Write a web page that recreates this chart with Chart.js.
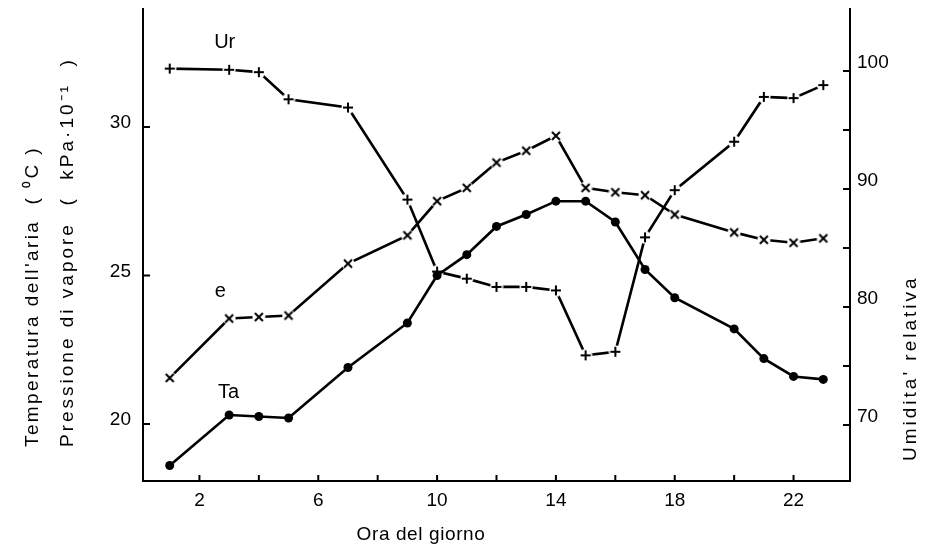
<!DOCTYPE html>
<html>
<head>
<meta charset="utf-8">
<script src="https://cdn.jsdelivr.net/npm/chart.js@4/dist/chart.umd.min.js"></script>
<style>
  html, body { margin: 0; padding: 0; background: #fff; }
</style>
</head>
<body>
<canvas id="grafico" width="938" height="555"></canvas>
<script>
// ore di misura e serie
var ore = [1, 3, 4, 5, 7, 9, 10, 11, 12, 13, 14, 15, 16, 17, 18, 20, 21, 22, 23];
var ta = [18.6, 20.3, 20.25, 20.2, 21.9, 23.4, 25.0, 25.7, 26.65, 27.05, 27.5, 27.5, 26.8, 25.2, 24.25, 23.2, 22.2, 21.6, 21.5];
var e = [21.55, 23.55, 23.6, 23.65, 25.4, 26.35, 27.5, 27.95, 28.8, 29.2, 29.7, 27.95, 27.8, 27.7, 27.05, 26.45, 26.2, 26.1, 26.25];
var ur = [100.2, 100.1, 99.9, 97.6, 96.9, 89.1, 83.0, 82.4, 81.7, 81.7, 81.4, 75.9, 76.2, 85.9, 89.9, 94.0, 97.8, 97.7, 98.8];

// etichette degli assi
var oreLabel = [2, 6, 10, 14, 18, 22];
var oreTacche = [2, 4, 6, 8, 10, 12, 14, 16, 18, 20, 22];
var tempLabel = [20, 25, 30];
var urLabel = [70, 80, 90, 100];
var urTacche = [70, 75, 80, 85, 90, 95, 100];

var FONT = '"Liberation Sans", Arial, sans-serif';

function punti(ys) {
  return ore.map(function (h, i) { return { x: h, y: ys[i] }; });
}

// simbolo con fondo bianco, cosi' la linea si interrompe vicino al punto
function simbolo(tipo) {
  var c = document.createElement('canvas');
  c.width = 14; c.height = 14;
  var g = c.getContext('2d');
  g.fillStyle = '#fff';
  g.beginPath(); g.arc(7, 7, 6.5, 0, 2 * Math.PI); g.fill();
  g.strokeStyle = '#000';
  g.lineWidth = 2;
  g.beginPath();
  if (tipo === 'x') {
    g.moveTo(3, 3); g.lineTo(11, 11);
    g.moveTo(11, 3); g.lineTo(3, 11);
  } else {
    g.moveTo(7, 2); g.lineTo(7, 12);
    g.moveTo(2, 7); g.lineTo(12, 7);
  }
  g.stroke();
  return c;
}

function soloTacche(valori) {
  return function (scale) {
    scale.ticks = valori.map(function (v) { return { value: v }; });
  };
}

// tacche rivolte verso l'interno
var tacche = {
  id: 'tacche',
  afterDraw: function (chart) {
    var ctx = chart.ctx, a = chart.chartArea, s = chart.scales;
    ctx.save();
    ctx.strokeStyle = '#000';
    ctx.lineWidth = 2;
    ctx.beginPath();
    tempLabel.forEach(function (v) {
      var y = s.yT.getPixelForValue(v);
      ctx.moveTo(a.left, y); ctx.lineTo(a.left + 7, y);
    });
    urTacche.forEach(function (v) {
      var y = s.yU.getPixelForValue(v);
      ctx.moveTo(a.right, y); ctx.lineTo(a.right - 7, y);
    });
    oreTacche.forEach(function (v) {
      var x = s.x.getPixelForValue(v);
      ctx.moveTo(x, a.bottom); ctx.lineTo(x, a.bottom - 6);
    });
    ctx.stroke();
    ctx.restore();
  }
};

function verticale(ctx, testo, x, y) {
  ctx.save();
  ctx.translate(x, y);
  ctx.rotate(-Math.PI / 2);
  ctx.fillText(testo, 0, 0);
  ctx.restore();
}

// nomi delle curve e titoli degli assi
var testi = {
  id: 'testi',
  afterDraw: function (chart) {
    var ctx = chart.ctx, s = chart.scales;
    ctx.save();
    ctx.fillStyle = '#000';
    ctx.textBaseline = 'middle';
    ctx.textAlign = 'center';
    ctx.font = '20px ' + FONT;
    ctx.fillText('Ur', s.x.getPixelForValue(2.85), s.yU.getPixelForValue(102.4));
    ctx.fillText('e', s.x.getPixelForValue(2.7), s.yT.getPixelForValue(24.45));
    ctx.fillText('Ta', s.x.getPixelForValue(2.98), s.yT.getPixelForValue(21.05));

    ctx.font = '19px ' + FONT;
    ctx.letterSpacing = '0.6px';
    ctx.fillText('Ora del giorno', 421, 535);

    ctx.textAlign = 'left';
    ctx.letterSpacing = '2.4px';
    verticale(ctx, "Temperatura dell'aria  ( \u2070C )", 33, 447);
    ctx.letterSpacing = '3px';
    verticale(ctx, 'Pressione di vapore  (  kPa\u00b710\u207b\u00b9  )', 68, 447);
    verticale(ctx, "Umidita' relativa", 911, 461);
    ctx.restore();
  }
};

var ctx = document.getElementById('grafico').getContext('2d');
var grafico = new Chart(ctx, {
  type: 'line',
  data: {
    datasets: [{
      label: 'Ta',
      data: punti(ta),
      yAxisID: 'yT',
      borderColor: '#000',
      backgroundColor: '#000',
      borderWidth: 2.6,
      pointStyle: 'circle',
      pointRadius: 4.5,
      pointBorderWidth: 0
    }, {
      label: 'e',
      data: punti(e),
      yAxisID: 'yT',
      borderColor: '#000',
      borderWidth: 2.6,
      pointStyle: simbolo('x')
    }, {
      label: 'Ur',
      data: punti(ur),
      yAxisID: 'yU',
      borderColor: '#000',
      borderWidth: 2.6,
      pointStyle: simbolo('+')
    }]
  },
  options: {
    responsive: false,
    animation: false,
    layout: { padding: { left: 103, right: 38, top: 9, bottom: 44 } },
    plugins: { legend: { display: false }, tooltip: { enabled: false } },
    scales: {
      x: {
        type: 'linear',
        min: 0.1,
        max: 23.9,
        afterBuildTicks: soloTacche(oreLabel),
        afterFit: function (sc) { sc.height = 30; sc.paddingLeft = 0; sc.paddingRight = 0; },
        grid: { drawOnChartArea: false, drawTicks: false },
        border: { color: '#000', width: 2 },
        ticks: { color: '#000', padding: 8, font: { family: FONT, size: 19 } }
      },
      yT: {
        type: 'linear',
        position: 'left',
        min: 18.08,
        max: 33.97,
        afterBuildTicks: soloTacche(tempLabel),
        afterFit: function (sc) { sc.width = 40; sc.paddingTop = 0; sc.paddingBottom = 0; },
        grid: { drawOnChartArea: false, drawTicks: false },
        border: { color: '#000', width: 2 },
        ticks: { color: '#000', padding: 12, labelOffset: -4, font: { family: FONT, size: 19 } }
      },
      yU: {
        type: 'linear',
        position: 'right',
        min: 65.25,
        max: 105.25,
        afterBuildTicks: soloTacche(urLabel),
        afterFit: function (sc) { sc.width = 50; sc.paddingTop = 0; sc.paddingBottom = 0; },
        grid: { drawOnChartArea: false, drawTicks: false },
        border: { color: '#000', width: 2 },
        ticks: { color: '#000', padding: 7, labelOffset: -8, font: { family: FONT, size: 19 } }
      }
    }
  },
  plugins: [tacche, testi]
});
</script>
</body>
</html>
